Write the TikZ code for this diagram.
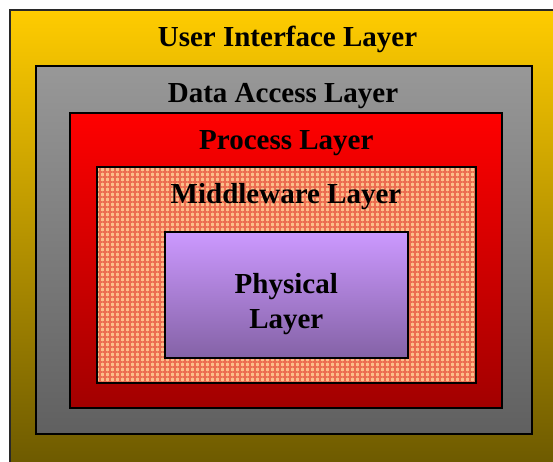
\documentclass[tikz,border=0pt]{standalone}
\usepackage{fontspec}
\setmainfont{Liberation Serif}
\usetikzlibrary{patterns.meta}
\definecolor{uitop}{RGB}{255,204,0}
\definecolor{uibot}{RGB}{104,86,0}
\definecolor{datop}{RGB}{152,152,152}
\definecolor{dabot}{RGB}{96,96,96}
\definecolor{prtop}{RGB}{255,0,0}
\definecolor{prbot}{RGB}{162,0,0}
\definecolor{phtop}{RGB}{204,153,255}
\definecolor{phbot}{RGB}{132,98,166}
\definecolor{mwbase}{RGB}{252,190,138}
\definecolor{mwline}{RGB}{236,108,80}
\tikzset{
  layerbox/.style={rectangle, draw=black, line width=1.5pt, inner sep=0pt},
  layerlabel/.style={font=\bfseries\fontsize{29}{34}\selectfont, text=black, anchor=base, inner sep=0pt},
  mwfill/.style={preaction={fill=mwbase},
    preaction={pattern={Lines[distance=5pt,angle=0,line width=1.8pt]}, pattern color=mwline},
    preaction={pattern={Lines[distance=5pt,angle=90,line width=1.8pt]}, pattern color=mwline}}
}
\begin{document}
\begin{tikzpicture}[x=1pt,y=-1pt]
\useasboundingbox[fill=white] (0,0) rectangle (553,462);
\begin{scope}
\clip (0,0) rectangle (553,462);
\node[layerbox, draw={rgb,255:red,40;green,40;blue,40}, top color=uitop, bottom color=uibot,
      minimum width=560pt, minimum height=470pt] (ui) at (290,245) {};
\end{scope}
\node[layerbox, top color=datop, bottom color=dabot, minimum width=496pt, minimum height=368pt] (da) at (284,250) {};
\node[layerbox, top color=prtop, bottom color=prbot, minimum width=432pt, minimum height=295pt] (pr) at (286,260.5) {};
\node[layerbox, mwfill, minimum width=379pt, minimum height=216pt] (mw) at (286.5,275) {};
\node[layerbox, top color=phtop, bottom color=phbot, minimum width=243pt, minimum height=126pt] (ph) at (286.5,295) {};
\node[layerlabel] (uit) at (287.5,46.7) {User Interface Layer};
\node[layerlabel] (dat) at (283,102.3) {Data Access Layer};
\node[layerlabel] (prt) at (286.3,150) {Process Layer};
\node[layerlabel] (mwt) at (286,203.3) {Middleware Layer};
\node[layerlabel] (pht1) at (286.3,293.3) {Physical};
\node[layerlabel] (pht2) at (286.3,328.3) {Layer};
\end{tikzpicture}
\end{document}
